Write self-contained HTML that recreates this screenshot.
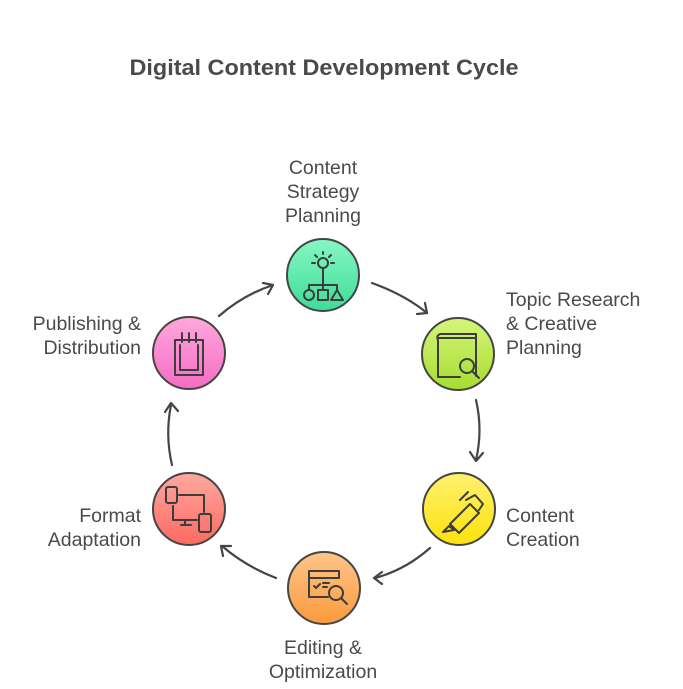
<!DOCTYPE html>
<html><head><meta charset="utf-8"><style>
html,body{margin:0;padding:0;background:#fff;}
svg{display:block;}
text{font-family:"Liberation Sans",sans-serif;fill:#4a4a4a;}
</style></head><body>
<svg width="683" height="689" viewBox="0 0 683 689" xmlns="http://www.w3.org/2000/svg">
<defs>
<linearGradient id="g1" x1="0" y1="0" x2="0" y2="1"><stop offset="0" stop-color="#86f7c4"/><stop offset="1" stop-color="#3fdc98"/></linearGradient>
<linearGradient id="g2" x1="0" y1="0" x2="0" y2="1"><stop offset="0" stop-color="#d6f57a"/><stop offset="1" stop-color="#a6dc30"/></linearGradient>
<linearGradient id="g3" x1="0" y1="0" x2="0" y2="1"><stop offset="0" stop-color="#fff170"/><stop offset="1" stop-color="#fde20a"/></linearGradient>
<linearGradient id="g4" x1="0" y1="0" x2="0" y2="1"><stop offset="0" stop-color="#ffc58a"/><stop offset="1" stop-color="#fb9a3e"/></linearGradient>
<linearGradient id="g5" x1="0" y1="0" x2="0" y2="1"><stop offset="0" stop-color="#ffa8a0"/><stop offset="1" stop-color="#fb6a60"/></linearGradient>
<linearGradient id="g6" x1="0" y1="0" x2="0" y2="1"><stop offset="0" stop-color="#ffa8dc"/><stop offset="1" stop-color="#f56cc4"/></linearGradient>
</defs>
<text x="324" y="75" font-size="22" font-weight="bold" text-anchor="middle" textLength="389" lengthAdjust="spacingAndGlyphs">Digital Content Development Cycle</text>

<g font-size="19.5">
<text x="323" y="174" text-anchor="middle">Content</text>
<text x="323" y="198" text-anchor="middle">Strategy</text>
<text x="323" y="222" text-anchor="middle">Planning</text>
<text x="506" y="306">Topic Research</text>
<text x="506" y="330">&amp; Creative</text>
<text x="506" y="354">Planning</text>
<text x="141" y="330" text-anchor="end">Publishing &amp;</text>
<text x="141" y="354" text-anchor="end">Distribution</text>
<text x="506" y="522">Content</text>
<text x="506" y="546">Creation</text>
<text x="141" y="522" text-anchor="end">Format</text>
<text x="141" y="546" text-anchor="end">Adaptation</text>
<text x="323" y="654" text-anchor="middle">Editing &amp;</text>
<text x="323" y="678" text-anchor="middle">Optimization</text>
</g>

<g stroke="#454545" stroke-width="2.2" fill="none" stroke-linecap="round" stroke-linejoin="round">
<path d="M372 283 Q405 295 427 313"/><path d="M417 314 L427 313 L425 303"/>
<path d="M476 400 Q483 430 476 460"/><path d="M470 452 L476 461 L483 453"/>
<path d="M430 548 Q405 570 375 578"/><path d="M382 572 L374 578 L382 584"/>
<path d="M276 578 Q245 566 222 546"/><path d="M223 556 L221 546 L231 546"/>
<path d="M172 465 Q165 435 171 405"/><path d="M165 412 L171 403 L178 411"/>
<path d="M219 316 Q243 295 273 285"/><path d="M263 283 L273 285 L268 294"/>
</g>

<g stroke="#454545" stroke-width="2">
<circle cx="323" cy="275" r="36" fill="url(#g1)"/>
<circle cx="458" cy="354" r="36" fill="url(#g2)"/>
<circle cx="459" cy="509" r="36" fill="url(#g3)"/>
<circle cx="324" cy="588" r="36" fill="url(#g4)"/>
<circle cx="189" cy="509" r="36" fill="url(#g5)"/>
<circle cx="189" cy="353" r="36" fill="url(#g6)"/>
</g>

<g stroke="#3d3d3d" stroke-width="2" fill="none" stroke-linecap="round" stroke-linejoin="round">
<circle cx="323" cy="263" r="5"/><path d="M323 268 V285 M309 285 H337 M309 285 V290 M337 285 V290 M323 285 V290"/>
<path d="M315 263 h-3 M331 263 h3 M317 257 l-2 -2 M329 257 l2 -2 M323 254 v-2"/>
<circle cx="309" cy="295" r="5"/><rect x="318" y="290" width="10" height="10"/><path d="M337 290 L343 300 H331 Z"/>
<path d="M438 338 H476 M440 334 H476 V376 M440 334 Q436 336 438 340 V377 H460"/><circle cx="467" cy="366" r="7"/><path d="M472 371 L479 378"/>
<path d="M449 526 L443 532 L454 530 Z M450 524 L470 504 L479 513 L459 533 Z M466 500 L475 495 L483 504 L479 510 M460 500 L468 492"/>
<path d="M309 578 H339 V571 H309 V597 H328 M314 586 l2 2 l4 -4 M323 583 h6 M323 587 h4"/><circle cx="336" cy="593" r="7"/><path d="M341 598 L347 604"/>
<rect x="166" y="487" width="11" height="16" rx="2"/><path d="M179 495 H204 V512 M173 506 V520 H197 M185 520 v5 M181 525 h10"/><rect x="199" y="514" width="12" height="18" rx="2"/>
<path d="M175 340 H203 V375 H175 Z M180 345 V370 H198 V345 M182 333 V342 M189 333 V342 M196 333 V342 M175 340 h3 M186 340 h3"/>
</g>
</svg>
</body></html>
